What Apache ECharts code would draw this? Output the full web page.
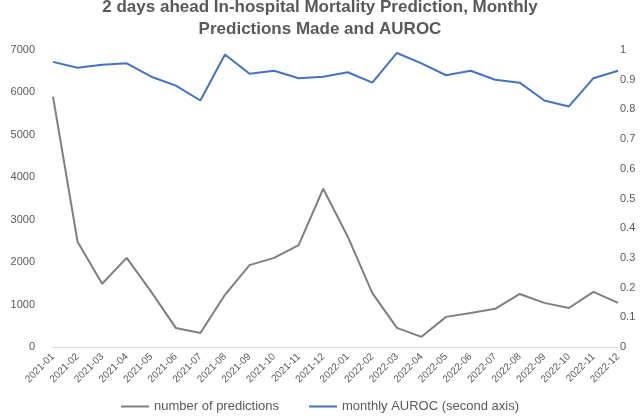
<!DOCTYPE html>
<html>
<head>
<meta charset="utf-8">
<script src="https://cdn.jsdelivr.net/npm/echarts@6/dist/echarts.min.js"></script>
<style>html,body{margin:0;padding:0;background:#fff}#main{width:640px;height:420px}</style>
</head>
<body>
<div id="main"></div>
<script>
var months = ['2021-01','2021-02','2021-03','2021-04','2021-05','2021-06','2021-07','2021-08','2021-09','2021-10','2021-11','2021-12',
  '2022-01','2022-02','2022-03','2022-04','2022-05','2022-06','2022-07','2022-08','2022-09','2022-10','2022-11','2022-12'];
var predictions = [5900,2480,1490,2100,1300,450,330,1230,1930,2100,2400,3730,2600,1270,450,240,710,800,900,1250,1040,920,1300,1040];
var auroc = [0.96,0.94,0.95,0.955,0.91,0.88,0.83,0.985,0.92,0.93,0.905,0.91,0.925,0.89,0.99,0.955,0.915,0.93,0.9,0.89,0.83,0.81,0.905,0.93];

var myChart = echarts.init(document.getElementById('main'));
var option = {
  animation: false,
  title: {
    text: '2 days ahead In-hospital Mortality Prediction, Monthly\nPredictions Made and AUROC',
    left: 'center', top: -9,
    textStyle: {fontFamily: 'Liberation Sans', fontSize: 17, fontWeight: 'bold', color: '#595959', lineHeight: 22}
  },
  legend: {
    bottom: 2, itemWidth: 28, itemHeight: 2, icon: 'rect', itemGap: 30,
    textStyle: {fontFamily: 'Liberation Sans', fontSize: 13, color: '#595959'},
    data: ['number of predictions', 'monthly AUROC (second axis)']
  },
  grid: {left: 53, right: 22, top: 50, bottom: 73},
  xAxis: {
    type: 'category', data: months, boundaryGap: false,
    axisLine: {lineStyle: {color: '#d9d9d9'}}, axisTick: {show: false},
    axisLabel: {rotate: 45, interval: 0, fontFamily: 'Liberation Sans', fontSize: 10, color: '#595959'}
  },
  yAxis: [
    {type: 'value', min: 0, max: 7000, interval: 1000,
     axisLine: {show: false}, axisTick: {show: false}, splitLine: {show: false},
     axisLabel: {fontFamily: 'Liberation Sans', fontSize: 11, color: '#595959', margin: 18,
       formatter: function(v){ return String(v); }}},
    {type: 'value', min: 0, max: 1, interval: 0.1,
     axisLine: {show: false}, axisTick: {show: false}, splitLine: {show: false},
     axisLabel: {fontFamily: 'Liberation Sans', fontSize: 11, color: '#595959', margin: 2,
       formatter: function(v){ return v === 0 ? '0' : (v === 1 ? '1' : v.toFixed(1)); }}}
  ],
  series: [
    {name: 'number of predictions', type: 'line', data: predictions, showSymbol: false,
     lineStyle: {color: '#7f7f7f', width: 2}, itemStyle: {color: '#7f7f7f'}},
    {name: 'monthly AUROC (second axis)', type: 'line', yAxisIndex: 1, data: auroc, showSymbol: false,
     lineStyle: {color: '#4472c4', width: 2}, itemStyle: {color: '#4472c4'}}
  ]
};
myChart.setOption(option);
</script>
</body>
</html>
